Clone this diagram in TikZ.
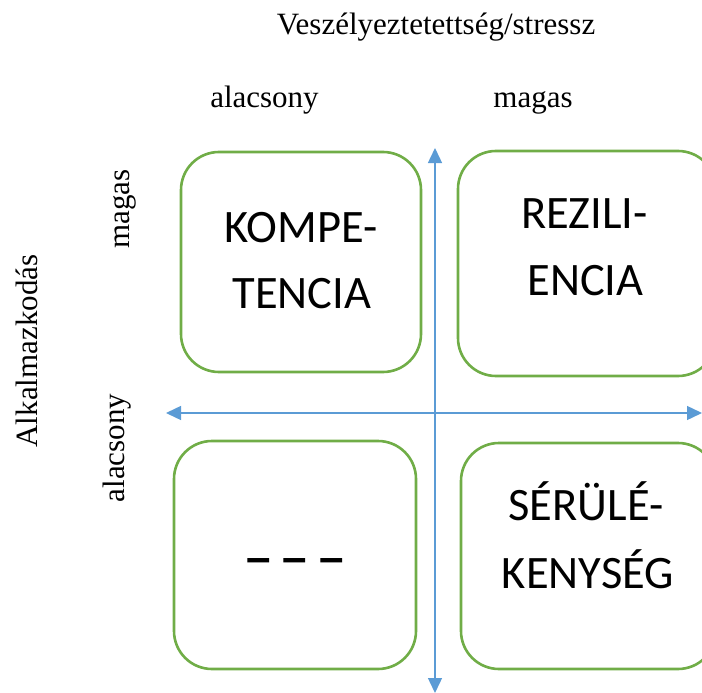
\documentclass[tikz,border=0pt]{standalone}
\usepackage{fontspec}
\setmainfont{Liberation Serif}
\newfontfamily\boxfont{Carlito}
\newfontfamily\dashfont{Liberation Sans}
\usetikzlibrary{arrows.meta}
\definecolor{qgreen}{HTML}{70AD47}
\definecolor{qblue}{HTML}{5B9BD5}
\begin{document}
\begin{tikzpicture}[x=1pt,y=-1pt,
  quad/.style={draw=qgreen, line width=2.6pt, rounded corners=38pt, inner sep=0pt},
  axis/.style={draw=qblue, line width=1.4pt, {Triangle[length=15pt,width=14pt]}-{Triangle[length=15pt,width=14pt]}},
  lbl/.style={inner sep=0pt, anchor=base, font=\fontsize{31}{37}\selectfont},
  boxtxt/.style={inner sep=0pt, anchor=base, font=\boxfont\fontsize{46.5}{66}\selectfont}]
\useasboundingbox (0,0) rectangle (702,693);
\clip (0,0) rectangle (702,693);
% boxes
\node[quad, minimum width=240pt, minimum height=220pt] (tl) at (301,262) {};
\node[quad, minimum width=258pt, minimum height=225pt] (tr) at (587,263.5) {};
\node[quad, minimum width=242pt, minimum height=228pt] (bl) at (295,555) {};
\node[quad, minimum width=255pt, minimum height=226pt] (br) at (588.5,556) {};
% axes
\coordinate (vtop) at (435,148);
\coordinate (vbot) at (435,693);
\coordinate (hleft) at (166,413);
\coordinate (hright) at (702,413);
\draw[axis] (vbot) -- (vtop);
\draw[axis] (hleft) -- (hright);
% box texts
\node[boxtxt] (t1a) at (301,242) {KOMPE-};
\node[boxtxt] (t1b) at (302,308) {TENCIA};
\node[boxtxt] (t2a) at (584.5,228) {REZILI-};
\node[boxtxt] (t2b) at (585.5,295) {ENCIA};
\node[boxtxt] (t3a) at (586,520) {SÉRÜLÉ-};
\node[boxtxt] (t3b) at (588,588) {KENYSÉG};
\node[inner sep=0pt, anchor=base, font=\dashfont\bfseries\fontsize{44}{50}\selectfont] (t4) at (295,572) {– – –};
% labels
\node[lbl] (title) at (436,35) {Veszélyeztetettség/stressz};
\node[lbl] (xlow) at (264.5,107) {alacsony};
\node[lbl] (xhigh) at (533,107) {magas};
\node[lbl, rotate=90] (ytitle) at (37,351) {Alkalmazkodás};
\node[lbl, rotate=90] (yhigh) at (129,209) {magas};
\node[lbl, rotate=90] (ylow) at (124,448) {alacsony};
\end{tikzpicture}
\end{document}
